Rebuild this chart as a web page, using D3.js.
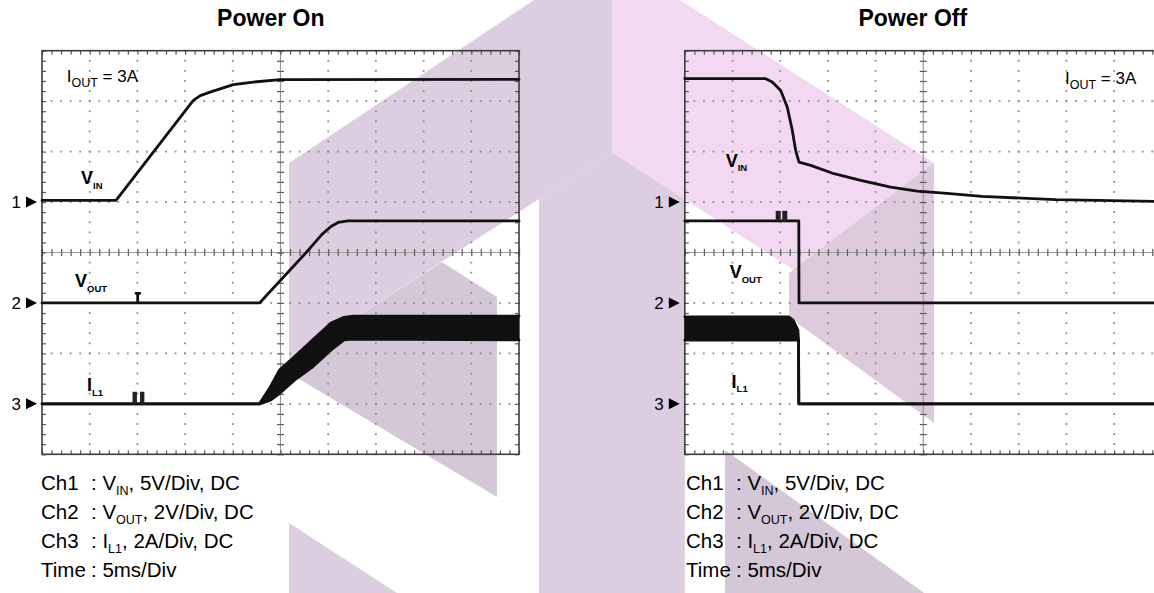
<!DOCTYPE html>
<html><head><meta charset="utf-8">
<script src="https://cdn.jsdelivr.net/npm/d3@7/dist/d3.min.js"></script>
<style>
html,body{margin:0;padding:0;background:#fff;}
svg{display:block;}
text{font-family:"Liberation Sans",Arial,Helvetica,sans-serif;fill:#000;}
</style></head><body>
<svg id="chart" width="1154" height="593"></svg>
<script>
// ================= DATA =================
const panelTitles = ["Power On", "Power Off"];
const channelIds = ["1", "2", "3"];
const channelGroundDiv = [1, -1, -3];      // ground reference of each channel, in divisions from centre
const channelPerDiv = [5, 2, 2];           // 5 V/div, 2 V/div, 2 A/div
const timePerDiv = 5;                      // ms/div
const timeDivCount = 10;
const vertDivCount = 8;

const settingNames = ["Ch1", "Ch2", "Ch3", "Time"];
const settingSymbols = ["V", "V", "I", ""];
const settingSubs = ["IN", "OUT", "L1", ""];
const settingRest = [", 5V/Div, DC", ", 2V/Div, DC", ", 2A/Div, DC", "5ms/Div"];

const traceSymbols = ["V", "V", "I"];
const traceSubs = ["IN", "OUT", "L1"];
const loadCurrentText = "3A";

// ---- Power On ----
const onVinTime  = [0, 7.76, 15.86, 16.6, 17.61, 20.05, 22.15, 24.95, 50];
const onVinValue = [0.17, 0.17, 10.08, 10.55, 10.90, 11.64, 11.89, 12.13, 12.16];

const onVoutTime  = [0, 10.03, 10.03, 9.85, 10.25, 10.03, 10.03, 22.8, 27.62, 29.35, 30.29, 31.03, 32.08, 50];
const onVoutValue = [0, 0, 0.38, 0.38, 0.38, 0.38, 0, 0, 1.97, 2.72, 3.03, 3.19, 3.25, 3.25];

const onIl1Time  = [0, 22.8, 23.95, 24.92, 26.46, 28.38, 30.31, 31.66, 32.62, 50];
const onIl1Upper = [0, 0, 0.68, 1.35, 1.87, 2.54, 3.20, 3.43, 3.48, 3.48];
const onIl1Lower = [0, 0, 0.15, 0.42, 0.94, 1.47, 2.14, 2.54, 2.57, 2.54];
const onIl1BurstStart = [9.49, 10.27];
const onIl1BurstEnd   = [9.95, 10.73];
const onIl1BurstBase  = [0, 0];
const onIl1BurstPeak  = [0.48, 0.48];

// ---- Power Off ----
const offVinTime  = [0, 8.48, 9.17, 10.05, 10.74, 11.27, 11.62, 11.97, 13.20, 15.64, 18.44, 21.58, 24.37, 27.17, 31.14, 38.86, 50];
const offVinValue = [12.23, 12.23, 11.89, 11.06, 9.41, 7.10, 5.12, 3.96, 3.64, 2.81, 2.15, 1.48, 1.09, 0.89, 0.56, 0.24, 0.06];

const offVoutTime  = [0, 11.95, 11.97, 50];
const offVoutValue = [3.25, 3.25, 0, 0];
const offVoutBurstStart = [9.53, 10.22];
const offVoutBurstEnd   = [10.05, 10.74];
const offVoutBurstBase  = [3.25, 3.25];
const offVoutBurstPeak  = [3.65, 3.65];

const offIl1Time  = [0, 10.9, 11.34, 11.85, 11.92, 11.95, 50];
const offIl1Upper = [3.45, 3.45, 3.32, 2.93, 2.53, 0, 0];
const offIl1Lower = [2.53, 2.53, 2.53, 2.53, 2.53, 0, 0];

// ================= LAYOUT =================
const W = 1154, H = 593;
const panelLeft = [42, 684.8];
const plotTop = 50.7, plotW = 477, plotH = 403.6;
const titleX = [270.8, 912.8], titleY = 26;
const settingX = [41, 686], settingY = [490, 519, 548.3, 576.7], settingColonDx = 50;
const loadLabelPos = [[66.7, 81.7], [1065, 84.3]];
const traceLabelPos = [
  [[81, 184], [75, 287], [87, 391]],
  [[725.7, 166.7], [729.7, 278.3], [731.6, 387.7]]
];
const watermark = [
  {fill: "#dccde0", pts: [[289,163],[534,0],[612,0],[612,152],[289,360]]},
  {fill: "#d4c8d8", pts: [[289,360],[442,262],[497,297],[497,497],[289,373]]},
  {fill: "#dccde0", pts: [[539,199],[612,152],[684.8,199],[684.8,593],[539,593]]},
  {fill: "#f2d9f1", pts: [[612,0],[680,0],[934,163],[934,361],[612,152]]},
  {fill: "#ddcbdd", pts: [[789,273],[934,163],[934,423],[789,317]]},
  {fill: "#d4c8d8", pts: [[725,450],[934,600],[725,600]]},
  {fill: "#dccde0", pts: [[289,523],[397,593],[289,593]]}
];

// ================= DRAW =================
const svg = d3.select("#chart");
svg.append("rect").attr("width", W).attr("height", H).attr("fill", "#fff");

svg.append("g").selectAll("path").data(watermark).join("path")
  .attr("d", d => d3.line()(d.pts) + "Z")
  .attr("fill", d => d.fill);

const panels = [
  {vin: [onVinTime, onVinValue], vout: [onVoutTime, onVoutValue],
   il1: [onIl1Time, onIl1Upper, onIl1Lower],
   bursts: [{ch: 2, s: onIl1BurstStart, e: onIl1BurstEnd, b: onIl1BurstBase, p: onIl1BurstPeak}]},
  {vin: [offVinTime, offVinValue], vout: [offVoutTime, offVoutValue],
   il1: [offIl1Time, offIl1Upper, offIl1Lower],
   bursts: [{ch: 1, s: offVoutBurstStart, e: offVoutBurstEnd, b: offVoutBurstBase, p: offVoutBurstPeak}]}
];

function subText(sel, x, y, main, sub, after, size, subSize, bold, subDy) {
  const t = sel.append("text").attr("x", x).attr("y", y)
    .attr("font-size", size).attr("font-weight", bold ? "bold" : "normal");
  t.append("tspan").text(main);
  if (sub) t.append("tspan").attr("dy", subDy).attr("font-size", subSize).text(sub);
  if (after) t.append("tspan").attr("dy", sub ? -subDy : 0).text(after);
  return t;
}

panels.forEach((P, pi) => {
  const L = panelLeft[pi];
  const tEnd = timePerDiv * timeDivCount;
  const x = d3.scaleLinear().domain([0, tEnd]).range([L, L + plotW]);
  const yDiv = d3.scaleLinear().domain([-vertDivCount / 2, vertDivCount / 2]).range([plotTop + plotH, plotTop]);
  const yCh = channelGroundDiv.map((g, i) =>
    d3.scaleLinear().domain([(-vertDivCount / 2 - g) * channelPerDiv[i], (vertDivCount / 2 - g) * channelPerDiv[i]])
      .range([plotTop + plotH, plotTop]));

  const g = svg.append("g");
  const minorT = d3.range(0, tEnd + 0.001, timePerDiv / 5);
  const minorV = d3.range(-vertDivCount / 2, vertDivCount / 2 + 0.001, 0.2);

  // dotted graticule
  const gridT = d3.range(1, timeDivCount).map(k => k * timePerDiv).filter(t => t !== tEnd / 2);
  const gridV = d3.range(-vertDivCount / 2 + 1, vertDivCount / 2).filter(v => v !== 0);
  const dots = g.append("g").attr("fill", "#8e8e8e");
  gridT.forEach(t => minorV.forEach(v =>
    dots.append("rect").attr("x", x(t) - 0.9).attr("y", yDiv(v) - 0.9).attr("width", 1.8).attr("height", 1.8)));
  gridV.forEach(v => minorT.forEach(t =>
    dots.append("rect").attr("x", x(t) - 0.9).attr("y", yDiv(v) - 0.9).attr("width", 1.8).attr("height", 1.8)));

  // centre lines
  g.append("line").attr("x1", x(0)).attr("x2", x(tEnd)).attr("y1", yDiv(0)).attr("y2", yDiv(0))
    .attr("stroke", "#9a9a9a").attr("stroke-width", 1.2);
  g.append("line").attr("x1", x(tEnd / 2)).attr("x2", x(tEnd / 2)).attr("y1", yDiv(-4)).attr("y2", yDiv(4))
    .attr("stroke", "#9a9a9a").attr("stroke-width", 1.2);

  const tickStyle = s => s.call(a => a.select(".domain").remove())
    .call(a => a.selectAll("line").attr("stroke", "#5a5a5a").attr("stroke-width", 1.2));
  const ax = (axis, tx, ty) => g.append("g").attr("transform", `translate(${tx},${ty})`).call(axis).call(tickStyle);
  ax(d3.axisBottom(x).tickValues(minorT).tickSize(3.5).tickFormat(""), 0, yDiv(0));
  ax(d3.axisTop(x).tickValues(minorT).tickSize(3.5).tickFormat(""), 0, yDiv(0));
  ax(d3.axisRight(yDiv).tickValues(minorV).tickSize(3.5).tickFormat(""), x(tEnd / 2), 0);
  ax(d3.axisLeft(yDiv).tickValues(minorV).tickSize(3.5).tickFormat(""), x(tEnd / 2), 0);
  ax(d3.axisBottom(x).tickValues(minorT).tickSize(4).tickFormat(""), 0, yDiv(4));
  ax(d3.axisTop(x).tickValues(minorT).tickSize(4).tickFormat(""), 0, yDiv(-4));
  ax(d3.axisRight(yDiv).tickValues(minorV).tickSize(4).tickFormat(""), x(0), 0);
  ax(d3.axisLeft(yDiv).tickValues(minorV).tickSize(4).tickFormat(""), x(tEnd), 0);

  g.append("rect").attr("x", x(0)).attr("y", yDiv(4)).attr("width", x(tEnd) - x(0)).attr("height", yDiv(-4) - yDiv(4))
    .attr("fill", "none").attr("stroke", "#3c3c3c").attr("stroke-width", 1.6);

  // traces
  const tr = svg.append("g");
  const line = ch => d3.line().x(d => x(d[0])).y(d => yCh[ch](d[1]));
  const stroke = s => s.attr("fill", "none").attr("stroke", "#111").attr("stroke-width", 2.8)
    .attr("stroke-linejoin", "round").attr("stroke-linecap", "round");
  tr.append("path").datum(d3.zip(P.vin[0], P.vin[1])).attr("d", line(0)).call(stroke);
  tr.append("path").datum(d3.zip(P.vout[0], P.vout[1])).attr("d", line(1)).call(stroke);
  const il = d3.zip(P.il1[0], P.il1[1], P.il1[2]);
  tr.append("path").datum(il)
    .attr("d", d3.area().x(d => x(d[0])).y0(d => yCh[2](d[2])).y1(d => yCh[2](d[1])))
    .attr("fill", "#111");
  tr.append("path").datum(il.map(d => [d[0], d[1]])).attr("d", line(2)).call(stroke);
  tr.append("path").datum(il.map(d => [d[0], d[2]])).attr("d", line(2)).call(stroke);
  P.bursts.forEach(B => {
    tr.append("g").selectAll("rect").data(d3.range(B.s.length)).join("rect")
      .attr("x", i => x(B.s[i])).attr("width", i => x(B.e[i]) - x(B.s[i]))
      .attr("y", i => yCh[B.ch](B.p[i])).attr("height", i => yCh[B.ch](B.b[i]) - yCh[B.ch](B.p[i]))
      .attr("fill", "#222");
  });

  // channel markers
  channelIds.forEach((id, i) => {
    const cy = yDiv(channelGroundDiv[i]);
    svg.append("text").attr("x", L - 21).attr("y", cy + 6).attr("text-anchor", "end")
      .attr("font-size", 17).text(id);
    svg.append("path").attr("d", d3.line()([[L - 16, cy - 5.5], [L - 5, cy], [L - 16, cy + 5.5]]) + "Z")
      .attr("fill", "#000");
  });

  // trace labels
  traceLabelPos[pi].forEach((p, i) => {
    subText(svg, p[0], p[1], traceSymbols[i], traceSubs[i], "", 18, 9.5, true, 4.5);
  });

  // load current label
  subText(svg, loadLabelPos[pi][0], loadLabelPos[pi][1], "I", "OUT", " = " + loadCurrentText, 17, 12.5, false, 5);

  // title
  svg.append("text").attr("x", titleX[pi]).attr("y", titleY).attr("text-anchor", "middle")
    .attr("font-size", 23).attr("font-weight", "bold").text(panelTitles[pi]);

  // settings text
  settingNames.forEach((nm, i) => {
    svg.append("text").attr("x", settingX[pi]).attr("y", settingY[i]).attr("font-size", 20.5).text(nm);
    if (settingSymbols[i])
      subText(svg, settingX[pi] + settingColonDx, settingY[i], ": " + settingSymbols[i], settingSubs[i], settingRest[i], 20.5, 12.5, false, 5);
    else
      svg.append("text").attr("x", settingX[pi] + settingColonDx).attr("y", settingY[i]).attr("font-size", 20.5).text(": " + settingRest[i]);
  });
});
</script>
</body></html>
